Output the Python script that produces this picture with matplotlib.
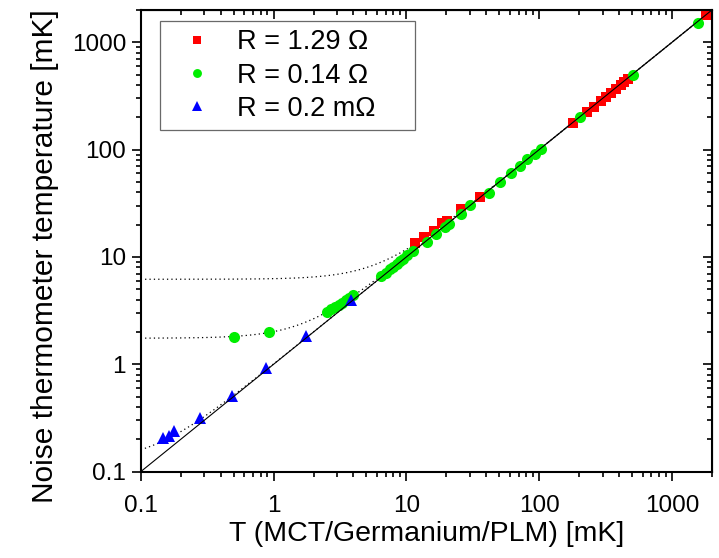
import numpy as np
import matplotlib
matplotlib.use("Agg")
import matplotlib.pyplot as plt

plt.rcParams['font.family'] = ['Liberation Sans', 'DejaVu Sans']

# R = 1.29 Ohm (red squares)
red_x = [11.7, 13.5, 16.1, 18.6, 20.3, 25.6, 35.8, 180, 231, 259, 291, 317, 346, 377, 412, 436, 468, 1800, 1909]
red_y = [13.4, 15.4, 17.5, 20.6, 21.7, 27.7, 35.9, 178, 225, 250, 284, 310, 334, 364, 399, 428, 460, 1780, 1853]

# R = 0.14 Ohm (green circles)
green_x = [0.5, 0.917, 2.53, 2.7, 2.9, 3.1, 3.3, 3.5, 3.7, 4.0,
           6.5, 7.0, 7.5, 8.0, 8.5, 9.0, 9.5, 10.2, 11.2,
           14.4, 16.6, 19.7, 20.9, 25.6, 30.4, 41.8, 50.6, 61, 71.6, 81.5, 92.5, 102.6, 203, 513, 1577]
green_y = [1.81, 1.99, 3.09, 3.25, 3.4, 3.58, 3.75, 3.95, 4.12, 4.4,
           6.6, 7.15, 7.65, 8.15, 8.65, 9.15, 9.65, 10.35, 11.3,
           13.9, 16.3, 19.1, 20.5, 25.1, 30.4, 39.6, 50.1, 60, 70.7, 81, 90.8, 100.5, 199.5, 494, 1517]

# R = 0.2 mOhm (blue triangles)
blue_x = [0.148, 0.164, 0.179, 0.28, 0.491, 0.877, 1.76, 3.84]
blue_y = [0.205, 0.215, 0.239, 0.314, 0.51, 0.918, 1.83, 3.97]

# saturation temperatures of the fitted curves  T_N = sqrt(T^2 + T0^2)
fit_T0 = [6.2, 1.75, 0.125]

xlim = (0.1, 2000)
ylim = (0.1, 2000)
xticks = [0.1, 1, 10, 100, 1000]
xticklabels = ['0.1', '1', '10', '100', '1000']
yticks = [0.1, 1, 10, 100, 1000]
yticklabels = ['0.1', '1', '10', '100', '1000']

fig = plt.figure(figsize=(7.19, 5.58), dpi=100)
ax = fig.add_axes([0.1957, 0.1547, 0.7945, 0.8274])
ax.set_xscale('log')
ax.set_yscale('log')
ax.set_xlim(*xlim)
ax.set_ylim(*ylim)

tt = np.logspace(np.log10(xlim[0]), np.log10(xlim[1]), 400)
ax.plot(tt, tt, color='black', lw=0.8, zorder=5)
for t0 in fit_T0:
    ax.plot(tt, np.sqrt(tt**2 + t0**2), color='black', lw=0.9, ls=(0, (1, 2.5)), zorder=1)

ax.plot(red_x, red_y, 's', color='#ff0000', ms=7.5, mew=0, label='R = 1.29 Ω', zorder=2)
ax.plot(green_x, green_y, 'o', color='#00ee00', ms=8, mew=0, label='R = 0.14 Ω', zorder=3)
ax.plot(blue_x, blue_y, '^', color='#0000ff', ms=8.5, mew=0, label='R = 0.2 mΩ', zorder=4)

ax.set_xticks(xticks)
ax.set_xticklabels(xticklabels)
ax.set_yticks(yticks)
ax.set_yticklabels(yticklabels)
ax.tick_params(which='both', direction='out', labelsize=17.5, width=1.2, colors='black')
ax.tick_params(which='major', length=6.5)
ax.tick_params(which='minor', length=3.5)
ax.tick_params(axis='x', which='major', pad=10)
ax.tick_params(axis='y', which='major', pad=4)
ax.xaxis.set_minor_formatter(matplotlib.ticker.NullFormatter())
ax.yaxis.set_minor_formatter(matplotlib.ticker.NullFormatter())
for s in ax.spines.values():
    s.set_linewidth(1.5)

secx = ax.secondary_xaxis('top')
secx.set_xticks(xticks)
secx.tick_params(which='both', direction='in', labeltop=False, width=1.2)
secx.tick_params(which='major', length=6.5)
secx.tick_params(which='minor', length=3.5)
secx.xaxis.set_minor_formatter(matplotlib.ticker.NullFormatter())
secx.set_xticklabels([])
secy = ax.secondary_yaxis('right')
secy.set_yticks(yticks)
secy.tick_params(which='both', direction='in', labelright=False, width=1.2)
secy.tick_params(which='major', length=6.5)
secy.tick_params(which='minor', length=3.5)
secy.yaxis.set_minor_formatter(matplotlib.ticker.NullFormatter())
secy.set_yticklabels([])

ax.set_xlabel('T (MCT/Germanium/PLM) [mK]', fontsize=20.5, labelpad=3)
ax.set_ylabel('Noise thermometer temperature [mK]', fontsize=21.5, labelpad=9)
ax.yaxis.label.set_y(0.466)

leg = ax.legend(loc='upper left', bbox_to_anchor=(0.034, 0.976, 0.446, 0.0), mode='expand',
                borderaxespad=0,
                fontsize=19.5, frameon=True, fancybox=False, edgecolor='#444444',
                handlelength=2.15, handletextpad=0.4, borderpad=0.3, labelspacing=0.27,
                markerscale=0.8)
leg.get_frame().set_linewidth(0.9)

fig.savefig('out.png', dpi=100)
